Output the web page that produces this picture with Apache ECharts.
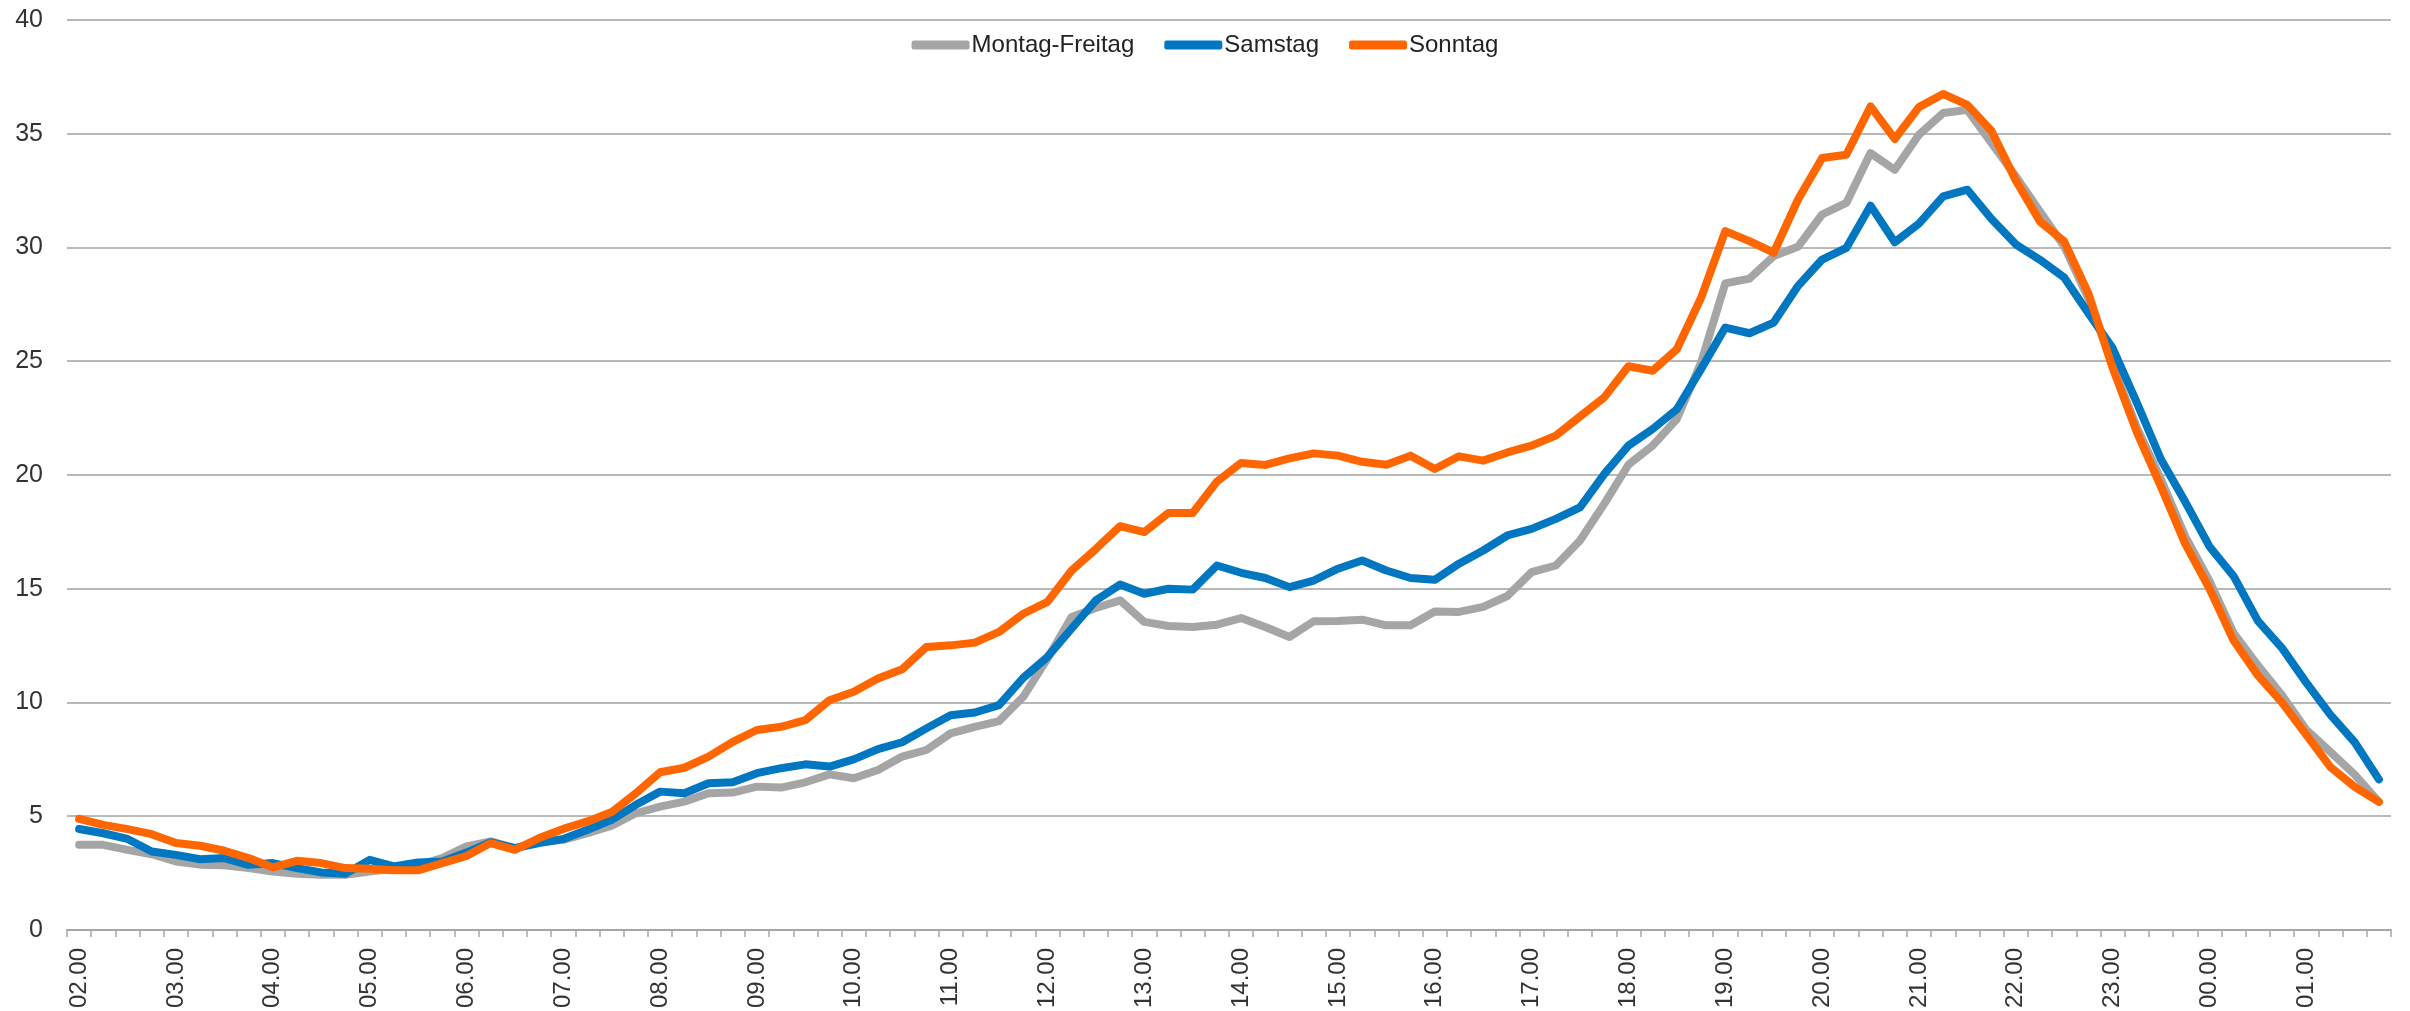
<!DOCTYPE html>
<html>
<head>
<meta charset="utf-8">
<script src="https://cdn.jsdelivr.net/npm/echarts@6/dist/echarts.min.js"></script>
<style>
  html, body { margin: 0; padding: 0; background: #fff; }
  #chart { width: 2410px; height: 1011px; }
</style>
</head>
<body>
<div id="chart"></div>
<script>
(function(){
  // Stunden der x-Achse, je 4 Viertelstunden-Werte
  var hours = ['02', '03', '04', '05', '06', '07', '08', '09', '10', '11', '12', '13',
               '14', '15', '16', '17', '18', '19', '20', '21', '22', '23', '00', '01'];
  var quarters = ['00', '15', '30', '45'];

  var montagFreitag = [
    3.74, 3.74, 3.52, 3.33, 3.01, 2.87, 2.84, 2.72, 2.57, 2.47, 2.43, 2.43, 2.57, 2.69, 2.84, 3.16,
    3.67, 3.89, 3.60, 3.86, 3.96, 4.25, 4.58, 5.13, 5.42, 5.64, 6.01, 6.04, 6.30, 6.26, 6.49, 6.84,
    6.67, 7.03, 7.62, 7.91, 8.64, 8.93, 9.18, 10.25, 11.93, 13.76, 14.15, 14.49, 13.54, 13.36, 13.32, 13.42,
    13.71, 13.32, 12.88, 13.57, 13.58, 13.64, 13.39, 13.39, 14.0, 13.98, 14.2, 14.68, 15.73, 16.02, 17.12, 18.73,
    20.45, 21.29, 22.46, 24.94, 28.42, 28.63, 29.62, 30.03, 31.45, 31.96, 34.15, 33.42, 34.96, 35.91, 36.05, 34.59,
    33.13, 31.58, 30.05, 27.76, 24.82, 22.09, 19.8, 17.3, 15.34, 13.05, 11.63, 10.32, 8.8, 7.82, 6.83, 5.63
  ];
  var samstag = [
    4.44, 4.25, 4.0, 3.45, 3.30, 3.11, 3.16, 2.86, 2.94, 2.72, 2.53, 2.47, 3.08, 2.79, 2.97, 3.01,
    3.4, 3.86, 3.60, 3.82, 4.0, 4.40, 4.84, 5.50, 6.08, 6.01, 6.45, 6.49, 6.89, 7.11, 7.28, 7.18,
    7.5, 7.95, 8.25, 8.86, 9.44, 9.56, 9.88, 11.08, 12.0, 13.25, 14.49, 15.18, 14.78, 15.0, 14.96, 16.02,
    15.7, 15.47, 15.07, 15.36, 15.88, 16.24, 15.8, 15.47, 15.39, 16.1, 16.68, 17.34, 17.63, 18.07, 18.58, 20.04,
    21.29, 22.02, 22.89, 24.65, 26.48, 26.23, 26.7, 28.3, 29.47, 29.98, 31.84, 30.23, 31.05, 32.25, 32.54, 31.25,
    30.14, 29.46, 28.68, 27.11, 25.58, 23.18, 20.68, 18.82, 16.86, 15.55, 13.59, 12.39, 10.87, 9.45, 8.25, 6.62
  ];
  var sonntag = [
    4.88, 4.62, 4.43, 4.21, 3.82, 3.70, 3.48, 3.16, 2.75, 3.04, 2.94, 2.72, 2.69, 2.62, 2.62, 2.94,
    3.25, 3.82, 3.52, 4.04, 4.44, 4.77, 5.18, 6.01, 6.93, 7.13, 7.62, 8.27, 8.79, 8.93, 9.22, 10.1,
    10.47, 11.05, 11.46, 12.44, 12.51, 12.63, 13.1, 13.9, 14.42, 15.8, 16.75, 17.75, 17.49, 18.33, 18.33, 19.71,
    20.53, 20.44, 20.73, 20.95, 20.85, 20.58, 20.45, 20.85, 20.26, 20.82, 20.63, 20.99, 21.29, 21.73, 22.57, 23.41,
    24.78, 24.58, 25.53, 27.79, 30.72, 30.28, 29.77, 32.1, 33.93, 34.08, 36.2, 34.77, 36.17, 36.75, 36.27, 35.12,
    32.95, 31.14, 30.27, 27.98, 24.71, 21.88, 19.48, 16.97, 15.01, 12.72, 11.19, 9.99, 8.58, 7.16, 6.29, 5.63
  ];

  var categories = [];
  hours.forEach(function(h){
    quarters.forEach(function(q){ categories.push(h + '.' + q); });
  });

  var font = 'Liberation Sans, Arial, sans-serif';
  var myChart = echarts.init(document.getElementById('chart'));

  function line(name, color, data) {
    return {
      name: name,
      type: 'line',
      data: data,
      symbol: 'none',
      lineStyle: { color: color, width: 8, cap: 'round', join: 'round' },
      itemStyle: { color: color },
      emphasis: { disabled: true }
    };
  }

  var option = {
    animation: false,
    backgroundColor: '#fff',
    legend: {
      top: 28,
      left: 'center',
      icon: 'roundRect',
      itemWidth: 58,
      itemHeight: 9,
      itemGap: 30,
      textStyle: { fontFamily: font, fontSize: 24, color: '#222', padding: [0, 0, 0, -3] },
      data: ['Montag-Freitag', 'Samstag', 'Sonntag']
    },
    grid: { left: 67, right: 19, top: 20, bottom: 79 },
    xAxis: {
      type: 'category',
      boundaryGap: true,
      data: categories,
      axisLine: { lineStyle: { color: '#a6a6a6', width: 2 } },
      axisTick: { show: true, interval: 0, length: 7, lineStyle: { color: '#a6a6a6', width: 1.5 } },
      axisLabel: {
        interval: 3,
        rotate: 90,
        margin: 18,
        fontFamily: font,
        fontSize: 24,
        color: '#333'
      }
    },
    yAxis: {
      type: 'value',
      min: 0,
      max: 40,
      interval: 5,
      axisLine: { show: false },
      axisTick: { show: false },
      splitLine: { lineStyle: { color: '#a0a0a0', width: 1.5 } },
      axisLabel: { margin: 24, fontFamily: font, fontSize: 25, color: '#333' }
    },
    series: [
      line('Montag-Freitag', '#a5a5a5', montagFreitag),
      line('Samstag', '#0077c0', samstag),
      line('Sonntag', '#ff6600', sonntag)
    ]
  };

  myChart.setOption(option);
  window.addEventListener('resize', function(){
    myChart.resize();
  });
})();
</script>
</body>
</html>
